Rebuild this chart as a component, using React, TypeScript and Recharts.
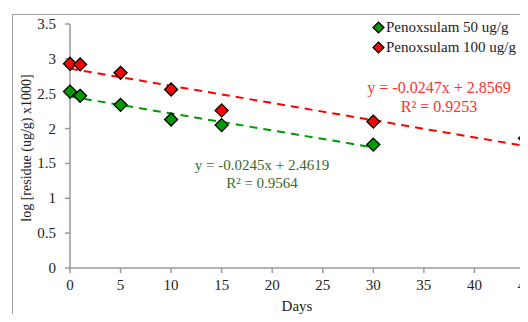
import { ComposedChart, Scatter, Line, XAxis, YAxis } from 'recharts';

const days50 = [0, 1, 5, 10, 15, 30];
const residue50 = [2.53, 2.47, 2.34, 2.13, 2.05, 1.77];
const days100 = [0, 1, 5, 10, 15, 30, 45];
const residue100 = [2.93, 2.92, 2.8, 2.56, 2.26, 2.1, 1.86];

// trend line end points
const trendDays50 = [0, 30];
const trendValues50 = [2.46, 1.73];
const trendDays100 = [0, 45];
const trendValues100 = [2.86, 1.75];

const xTicks = [0, 5, 10, 15, 20, 25, 30, 35, 40, 45];
const yTicks = [0, 0.5, 1, 1.5, 2, 2.5, 3, 3.5];

const GREEN = '#009a00';
const RED = '#ff0000';
const FONT = '"Liberation Serif", "Times New Roman", serif';

const zip = (xs: number[], ys: number[]) => xs.map((x, i) => ({ x, y: ys[i] }));

const data50 = zip(days50, residue50);
const data100 = zip(days100, residue100);
const trend50 = zip(trendDays50, trendValues50);
const trend100 = zip(trendDays100, trendValues100);

function Diamond(props: any) {
  const { cx, cy, fill } = props;
  const r = 6.5;
  return (
    <path
      d={`M${cx},${cy - r} L${cx + r},${cy} L${cx},${cy + r} L${cx - r},${cy} Z`}
      fill={fill}
      stroke="#000"
      strokeWidth={1.3}
    />
  );
}

function XTick(props: any) {
  const { x, y, payload } = props;
  return (
    <text x={x} y={y + 15} textAnchor="middle" fontSize={15} fontFamily={FONT} fill="#222">
      {payload.value}
    </text>
  );
}

function YTick(props: any) {
  const { x, y, payload } = props;
  return (
    <text x={x - 7} y={y + 5} textAnchor="end" fontSize={15} fontFamily={FONT} fill="#222">
      {payload.value}
    </text>
  );
}

function LegendItem({ color, text }: { color: string; text: string }) {
  return (
    <div style={{ display: 'flex', alignItems: 'center', height: 20 }}>
      <svg width={13} height={13} style={{ marginRight: 1 }}>
        <path d="M6.5,1 L12,6.5 L6.5,12 L1,6.5 Z" fill={color} stroke="#000" strokeWidth={1.2} />
      </svg>
      <span>{text}</span>
    </div>
  );
}

export default function App() {
  return (
    <div
      style={{
        position: 'relative',
        width: 528,
        height: 322,
        margin: -8,
        overflow: 'hidden',
        background: '#fff',
        fontFamily: FONT,
      }}
    >
      <div
        style={{
          position: 'absolute',
          left: 12,
          top: 14,
          width: 700,
          height: 500,
          border: '1.5px solid #a0a0a0',
        }}
      />
      <div style={{ position: 'absolute', left: 0, top: 0 }}>
        <ComposedChart width={528} height={322} margin={{ top: 24, right: 0, bottom: 24, left: 0 }}>
          <XAxis
            type="number"
            dataKey="x"
            domain={[0, 45.3]}
            ticks={xTicks}
            interval={0}
            stroke="#999"
            strokeWidth={1.5}
            tickSize={5}
            tick={<XTick />}
            height={30}
          />
          <YAxis
            type="number"
            dataKey="y"
            domain={[0, 3.5]}
            ticks={yTicks}
            interval={0}
            stroke="#999"
            strokeWidth={1.5}
            tickSize={5}
            tick={<YTick />}
            width={70}
          />
          <Line
            data={trend50}
            dataKey="y"
            stroke={GREEN}
            strokeWidth={2}
            strokeDasharray="8 6"
            dot={false}
            activeDot={false}
            isAnimationActive={false}
          />
          <Line
            data={trend100}
            dataKey="y"
            stroke={RED}
            strokeWidth={2}
            strokeDasharray="8 6"
            dot={false}
            activeDot={false}
            isAnimationActive={false}
          />
          <Scatter data={data50} fill={GREEN} shape={<Diamond />} isAnimationActive={false} />
          <Scatter data={data100} fill={RED} shape={<Diamond />} isAnimationActive={false} />
        </ComposedChart>
      </div>
      <div
        style={{
          position: 'absolute',
          left: 27,
          top: 148,
          transform: 'translate(-50%, -50%) rotate(-90deg)',
          whiteSpace: 'nowrap',
          fontSize: 14,
          color: '#222',
        }}
      >
        log [residue (ug/g) x1000]
      </div>
      <div
        style={{
          position: 'absolute',
          left: 297,
          top: 298,
          transform: 'translateX(-50%)',
          fontSize: 15,
          color: '#222',
        }}
      >
        Days
      </div>
      <div style={{ position: 'absolute', left: 372, top: 17, fontSize: 15, color: '#222' }}>
        <LegendItem color={GREEN} text="Penoxsulam 50 ug/g" />
        <LegendItem color={RED} text="Penoxsulam 100 ug/g" />
      </div>
      <div
        style={{
          position: 'absolute',
          left: 262,
          top: 156,
          transform: 'translateX(-50%)',
          textAlign: 'center',
          fontSize: 15,
          lineHeight: '18px',
          color: '#3a6b2e',
          whiteSpace: 'nowrap',
        }}
      >
        y = -0.0245x + 2.4619
        <br />
        R² = 0.9564
      </div>
      <div
        style={{
          position: 'absolute',
          left: 439,
          top: 78,
          transform: 'translateX(-50%)',
          textAlign: 'center',
          fontSize: 16,
          lineHeight: '19px',
          color: '#ff3030',
          whiteSpace: 'nowrap',
        }}
      >
        y = -0.0247x + 2.8569
        <br />
        R² = 0.9253
      </div>
    </div>
  );
}
